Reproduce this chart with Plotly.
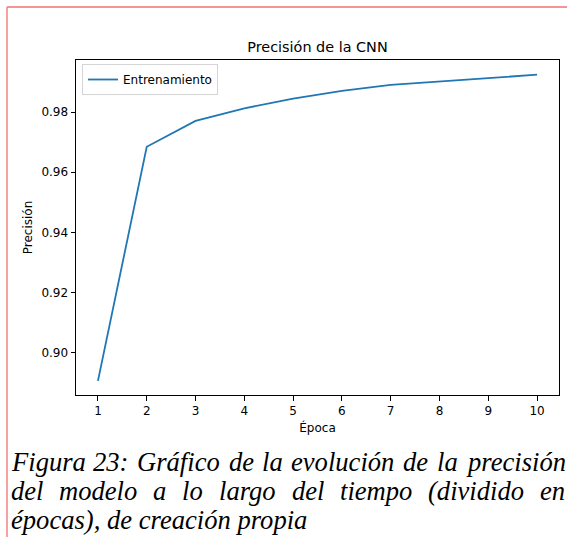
import plotly.graph_objects as go

# ---- data ----
epocas = [1, 2, 3, 4, 5, 6, 7, 8, 9, 10]
precision = [0.8905, 0.9685, 0.9771, 0.9813, 0.9845, 0.9871, 0.9891, 0.9902, 0.9913, 0.9925]
x_ticks = [1, 2, 3, 4, 5, 6, 7, 8, 9, 10]
y_ticks = [0.90, 0.92, 0.94, 0.96, 0.98]
serie = "Entrenamiento"
titulo = "Precisión de la CNN"
x_label = "Época"
y_label = "Precisión"
caption_line1 = "Figura 23: Gráfico de la evolución de la precisión"
caption_line2 = "del modelo a lo largo del tiempo (dividido en"
caption_line3 = "épocas), de creación propia"

# ---- layout geometry (pixels) ----
W, H = 567, 537
L, R, T, B = 76, 559, 60, 395


def px(x):
    return (x - L) / (R - L)


def py(y):
    return (B - y) / (B - T)


# approximate italic serif advance widths (em/1000) used to justify the caption
ADV = {"F": 611, "i": 278, "g": 500, "u": 500, "r": 389, "a": 500, "2": 500, "3": 500,
       ":": 333, "G": 722, "á": 500, "f": 278, "c": 444, "o": 500, "d": 500, "e": 444,
       "l": 278, "v": 444, "ó": 500, "n": 500, "p": 500, "s": 389, "m": 722, "t": 278,
       "(": 333, ")": 333, ",": 250, "é": 444, " ": 250}
CAP_SIZE = 26.6
CAP_LEFT, CAP_RIGHT = 10, 564


def word_w(w):
    return sum(ADV.get(ch, 500) for ch in w) / 1000 * CAP_SIZE


def justified(line):
    words = line.split(" ")
    total = sum(word_w(w) for w in words)
    gap = (CAP_RIGHT - CAP_LEFT - total) / (len(words) - 1)
    xs, x = [], CAP_LEFT
    for w in words:
        xs.append(x)
        x += word_w(w) + gap
    return list(zip(words, xs))


fig = go.Figure()
fig.add_trace(go.Scatter(
    x=epocas, y=precision, mode="lines", name=serie,
    line=dict(color="#1f77b4", width=1.8),
    showlegend=True,
))

tickfont = dict(family="DejaVu Sans", size=12, color="black")
fig.update_layout(
    width=W, height=H,
    margin=dict(l=L, r=W - R, t=T, b=H - B, pad=0),
    paper_bgcolor="white", plot_bgcolor="white",
    title=dict(text=titulo, x=0.5, xref="paper", y=1 - 47 / H, yref="container",
               xanchor="center", yanchor="middle",
               font=dict(family="DejaVu Sans", size=14.4, color="black")),
    showlegend=True,
    legend=dict(x=px(82), y=py(64), xanchor="left", yanchor="top",
                bgcolor="white", bordercolor="#d4d4d4", borderwidth=1,
                font=dict(family="DejaVu Sans", size=12, color="black"),
                itemwidth=30, tracegroupgap=0),
    xaxis=dict(range=[0.55, 10.45], tickmode="array", tickvals=x_ticks,
               ticktext=[str(v) for v in x_ticks],
               showgrid=False, zeroline=False, showline=True, mirror=True,
               linecolor="black", linewidth=1, ticks="outside", ticklen=4.5,
               tickwidth=1, tickcolor="black", tickfont=tickfont,
               title=dict(text=x_label, font=dict(family="DejaVu Sans", size=12, color="black"),
                          standoff=6)),
    yaxis=dict(range=[0.8858, 0.9974], tickmode="array", tickvals=y_ticks,
               ticktext=["%.2f" % v for v in y_ticks],
               showgrid=False, zeroline=False, showline=True, mirror=True,
               linecolor="black", linewidth=1, ticks="outside", ticklen=4.5,
               tickwidth=1, tickcolor="black", tickfont=tickfont,
               title=dict(text=y_label, font=dict(family="DejaVu Sans", size=12, color="black"),
                          standoff=6)),
)

# document page border lines
fig.add_shape(type="line", xref="paper", yref="paper",
              x0=px(7), x1=px(567), y0=py(7), y1=py(7),
              line=dict(color="#e52b2b", width=1))
fig.add_shape(type="line", xref="paper", yref="paper",
              x0=px(7), x1=px(7), y0=py(7), y1=py(537),
              line=dict(color="#f58a8a", width=1.6))

capfont = dict(family="Liberation Serif", size=CAP_SIZE, color="black", style="italic")
for line, base in ((caption_line1, 471), (caption_line2, 500)):
    for w, xw in justified(line):
        fig.add_annotation(text=w, x=px(xw), y=py(base - 9), xref="paper", yref="paper",
                           xanchor="left", yanchor="middle", showarrow=False,
                           font=capfont, borderpad=0)
fig.add_annotation(text=caption_line3, x=px(CAP_LEFT), y=py(529 - 9), xref="paper", yref="paper",
                   xanchor="left", yanchor="middle", showarrow=False,
                   font=capfont, borderpad=0)

fig.write_html("out.html", config={"displayModeBar": False},
               post_script="document.body.style.margin='0px';")
